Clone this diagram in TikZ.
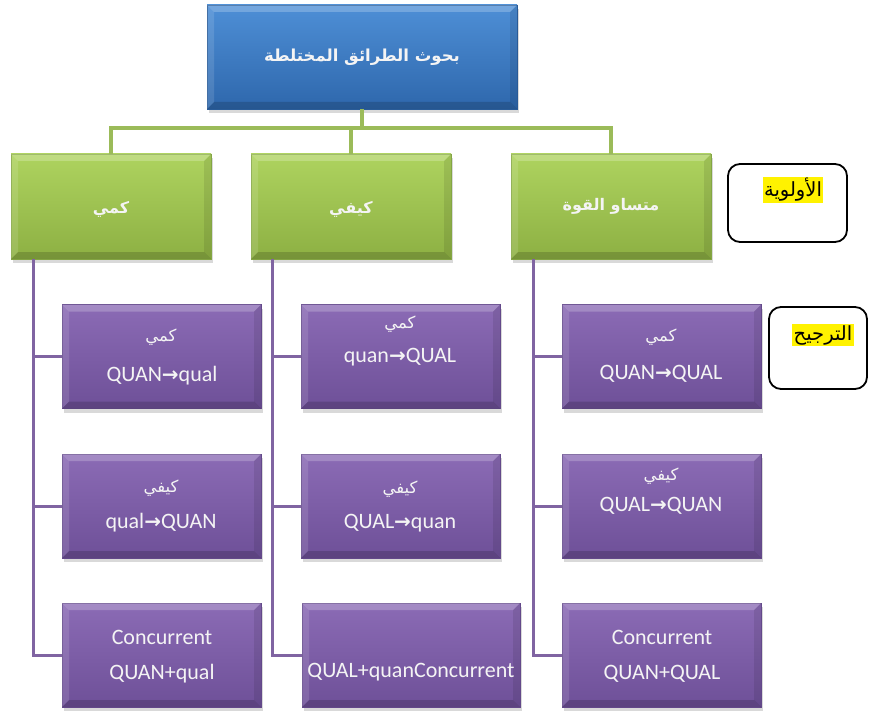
\documentclass[tikz,border=0pt]{standalone}
\usepackage{fontspec}
\setmainfont{Carlito}
\newfontfamily\ar[Script=Arabic]{DejaVu Sans}
\newfontfamily\sym{DejaVu Sans}
\TeXXeTstate=1
\usetikzlibrary{shadows}
\definecolor{blueT}{HTML}{4E8FD6}
\definecolor{blueB}{HTML}{2E67AC}
\definecolor{blueE}{HTML}{2A5C98}
\definecolor{greenT}{HTML}{AED35F}
\definecolor{greenB}{HTML}{8DB043}
\definecolor{greenE}{HTML}{86A845}
\definecolor{purT}{HTML}{8B6BB5}
\definecolor{purB}{HTML}{6E5098}
\definecolor{purE}{HTML}{654A8C}
\definecolor{gline}{HTML}{9BBB59}
\definecolor{pline}{HTML}{8064A2}
\definecolor{txt}{HTML}{F4F4F4}
\newcommand\bev[1]{%
 \fill[white,opacity=.22] (#1.north west) -- (#1.north east) -- ([shift={(-7,7)}]#1.north east) -- ([shift={(7,7)}]#1.north west) -- cycle;
 \fill[white,opacity=.12] (#1.north west) -- ([shift={(7,7)}]#1.north west) -- ([shift={(7,-7)}]#1.south west) -- (#1.south west) -- cycle;
 \fill[black,opacity=.16] (#1.south west) -- (#1.south east) -- ([shift={(-7,-7)}]#1.south east) -- ([shift={(7,-7)}]#1.south west) -- cycle;
 \fill[black,opacity=.09] (#1.north east) -- ([shift={(-7,7)}]#1.north east) -- ([shift={(-7,-7)}]#1.south east) -- (#1.south east) -- cycle;
}
\newcommand\arr{{\sym\bfseries\fontsize{20}{22}\selectfont →}}
\begin{document}
\begin{tikzpicture}[x=1pt,y=-1pt,
  base/.style={inner sep=0pt,outer sep=0pt,line width=0.8pt,
    drop shadow={opacity=.3,shadow xshift=2pt,shadow yshift=-4pt}},
  bluebox/.style={base,draw=blueE,top color=blueT,bottom color=blueB,minimum width=310pt,minimum height=104pt},
  greenbox/.style={base,draw=greenE,top color=greenT,bottom color=greenB,minimum width=200pt,minimum height=105pt},
  purbox/.style={base,draw=purE,top color=purT,bottom color=purB,minimum width=199pt,minimum height=104pt},
  sidebox/.style={draw=black,line width=1.8pt,rounded corners=12pt,inner sep=0pt},
  hl/.style={fill=yellow,inner sep=1.5pt,text=black,font=\ar\fontsize{19.5}{22}\selectfont},
  ttl/.style={text=txt,font=\ar\bfseries\fontsize{16.5}{20}\selectfont},
  gtl/.style={text=txt,font=\ar\bfseries\fontsize{16}{19}\selectfont},
  art/.style={text=txt,font=\ar\fontsize{16.5}{18}\selectfont},
  lat/.style={text=txt,font=\fontsize{22}{25}\selectfont},
  gcon/.style={draw=gline,line width=4.5pt},
  pcon/.style={draw=pline,line width=3pt}]
\useasboundingbox (0,0) rectangle (869,714);
% boxes
\node[bluebox] (top) at (362,57) {};
\node[greenbox] (g1) at (111,206.5) {};
\node[greenbox] (g2) at (351,206.5) {};
\node[greenbox] (g3) at (611,206.5) {};
\node[purbox] (p11) at (161.5,356.5) {};
\node[purbox] (p12) at (161.5,506) {};
\node[purbox] (p13) at (161.5,655) {};
\node[purbox] (p21) at (400.5,356.5) {};
\node[purbox] (p22) at (400.5,506) {};
\node[purbox,minimum width=218pt] (p23) at (411,655) {};
\node[purbox] (p31) at (661.5,356.5) {};
\node[purbox] (p32) at (661.5,506) {};
\node[purbox] (p33) at (661.5,655) {};
\foreach \n in {top,g1,g2,g3,p11,p12,p13,p21,p22,p23,p31,p32,p33}{\bev{\n}}
% green connectors
\draw[gcon] (top.south) -- ++(0,19) coordinate (bus);
\draw[gcon] (g1.north) -- (g1.north |- bus) -- (g3.north |- bus) -- (g3.north);
\draw[gcon] (g2.north) -- (g2.north |- bus);
% purple connectors
\coordinate (s1) at ([xshift=22pt]g1.south west);
\coordinate (s2) at ([xshift=21pt]g2.south west);
\coordinate (s3) at ([xshift=22pt]g3.south west);
\draw[pcon] (s1) |- (p13.west);
\draw[pcon] (s1 |- p11.west) -- (p11.west);
\draw[pcon] (s1 |- p12.west) -- (p12.west);
\draw[pcon] (s2) |- (p23.west);
\draw[pcon] (s2 |- p21.west) -- (p21.west);
\draw[pcon] (s2 |- p22.west) -- (p22.west);
\draw[pcon] (s3) |- (p33.west);
\draw[pcon] (s3 |- p31.west) -- (p31.west);
\draw[pcon] (s3 |- p32.west) -- (p32.west);
% titles
\node[ttl] (ttop) at (362,57) {\beginR بحوث الطرائق المختلطة\endR};
\node[gtl] (tg1) at (111,209) {\beginR كمي\endR};
\node[gtl] (tg2) at (351,209) {\beginR كيفي\endR};
\node[gtl] (tg3) at (611,206) {\beginR متساو القوة\endR};
% purple texts
\node[art] (a11) at (161,337) {\beginR كمي\endR};
\node[lat] (b11) at (162,376) {QUAN\arr qual};
\node[art] (a12) at (161,488) {\beginR كيفي\endR};
\node[lat] (b12) at (161,523) {qual\arr QUAN};
\node[lat] (a13) at (162,637) {Concurrent};
\node[lat] (b13) at (162,674) {QUAN+qual};
\node[art] (a21) at (400,324) {\beginR كمي\endR};
\node[lat] (b21) at (400,357) {quan\arr QUAL};
\node[art] (a22) at (400,489) {\beginR كيفي\endR};
\node[lat] (b22) at (400,523) {QUAL\arr quan};
\node[lat] (b23) at (411,672) {QUAL+quanConcurrent};
\node[art] (a31) at (661,337) {\beginR كمي\endR};
\node[lat] (b31) at (661,374) {QUAN\arr QUAL};
\node[art] (a32) at (661,476) {\beginR كيفي\endR};
\node[lat] (b32) at (661,506) {QUAL\arr QUAN};
\node[lat] (a33) at (662,637) {Concurrent};
\node[lat] (b33) at (662,674) {QUAN+QUAL};
% side boxes
\node[sidebox,minimum width=119pt,minimum height=78pt] (pri) at (787.5,203) {};
\node[hl] (tpri) at (793,190) {\beginR الأولوية\endR};
\node[sidebox,minimum width=98pt,minimum height=82pt] (wt) at (818,348) {};
\node[hl] (twt) at (823,335) {\beginR الترجيح\endR};
\end{tikzpicture}
\end{document}
